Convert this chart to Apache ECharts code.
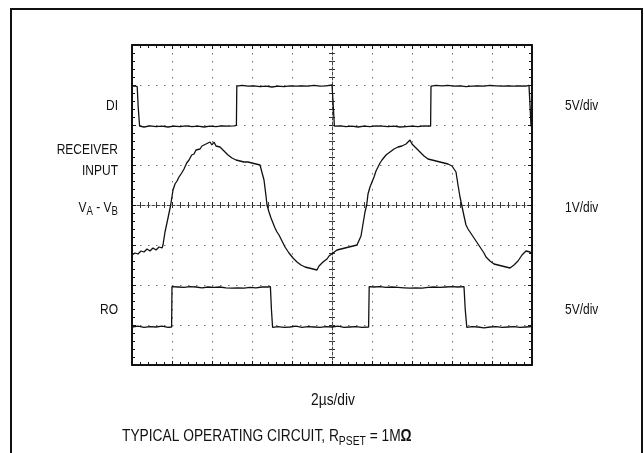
<!DOCTYPE html>
<html>
<head>
<meta charset="utf-8">
<script src="https://cdn.jsdelivr.net/npm/echarts@6/dist/echarts.min.js"></script>
<style>html,body{margin:0;padding:0;background:#fff;}#c{width:644px;height:453px;}</style>
</head>
<body>
<div id="c"></div>
<script>
// time in µs (2 µs/div), amplitude in screen divisions (0 = centre line)
const diTrace = [[0,2.97],[0.12,2.98],[0.26,2.96],[0.31,2.45],[0.38,1.97],[0.6,1.95],[0.9,1.98],[1.2,1.96],[1.5,1.97],[1.8,1.95],[2.1,1.97],[2.4,1.96],[2.7,1.98],[3.0,1.96],[3.3,1.97],[3.6,1.95],[3.9,1.97],[4.2,1.96],[4.5,1.98],[4.8,1.97],[5.1,1.98],[5.22,1.99],[5.24,2.97],[5.5,2.99],[5.8,2.97],[6.1,2.98],[6.4,2.96],[6.7,2.97],[7.0,2.95],[7.3,2.97],[7.6,2.96],[7.9,2.98],[8.2,2.97],[8.5,2.98],[8.8,2.97],[9.1,2.99],[9.4,2.97],[9.7,2.98],[10.0,3.0],[10.05,2.6],[10.12,1.97],[10.4,1.98],[10.7,1.96],[11.0,1.97],[11.3,1.95],[11.6,1.97],[11.9,1.96],[12.2,1.98],[12.5,1.97],[12.8,1.96],[13.1,1.97],[13.4,1.95],[13.7,1.96],[14.0,1.97],[14.3,1.96],[14.6,1.98],[14.93,1.97],[14.95,2.97],[15.2,2.99],[15.5,2.98],[15.8,2.99],[16.1,2.97],[16.4,2.98],[16.7,2.96],[17.0,2.97],[17.3,2.98],[17.6,2.97],[17.9,2.99],[18.2,2.98],[18.5,2.97],[18.8,2.98],[19.1,2.97],[19.4,2.98],[19.7,2.97],[19.85,2.99],[19.9,2.5],[19.95,1.97],[20,1.97]];

const receiverTrace = [[0,-1.25],[0.15,-1.2],[0.3,-1.225],[0.45,-1.15],[0.6,-1.175],[0.75,-1.1],[0.9,-1.15],[1.05,-1.075],[1.2,-1.125],[1.35,-1.05],[1.5,-1.075],[1.55,-1.0],[1.65,-0.675],[1.8,-0.325],[1.935,0],[2.05,0.375],[2.15,0.525],[2.25,0.6],[2.35,0.7],[2.485,0.8],[2.6,0.9],[2.735,1.05],[2.85,1.125],[2.985,1.25],[3.1,1.275],[3.2,1.375],[3.3,1.425],[3.4,1.4],[3.5,1.475],[3.6,1.45],[3.7,1.525],[3.8,1.5],[3.9,1.575],[4.0,1.5],[4.1,1.575],[4.2,1.475],[4.3,1.525],[4.4,1.45],[4.5,1.425],[4.6,1.35],[4.7,1.325],[4.8,1.25],[4.9,1.225],[5.0,1.175],[5.1,1.2],[5.2,1.125],[5.3,1.175],[5.4,1.1],[5.5,1.125],[5.6,1.075],[5.7,1.125],[5.8,1.075],[5.9,1.1],[6.0,1.05],[6.1,1.075],[6.2,1.025],[6.3,1.075],[6.4,1.0],[6.5,0.975],[6.6,0.625],[6.7,0.225],[6.75,0],[6.85,-0.175],[6.95,-0.325],[7.05,-0.45],[7.15,-0.575],[7.25,-0.675],[7.35,-0.75],[7.45,-0.85],[7.55,-0.95],[7.65,-1.05],[7.75,-1.125],[7.85,-1.2],[7.95,-1.25],[8.05,-1.325],[8.15,-1.35],[8.25,-1.425],[8.35,-1.45],[8.45,-1.5],[8.55,-1.475],[8.65,-1.55],[8.75,-1.5],[8.85,-1.575],[8.95,-1.55],[9.05,-1.6],[9.15,-1.575],[9.25,-1.625],[9.35,-1.525],[9.45,-1.475],[9.55,-1.425],[9.65,-1.375],[9.75,-1.35],[9.85,-1.275],[9.95,-1.25],[10.05,-1.2],[10.15,-1.175],[10.25,-1.125],[10.35,-1.15],[10.45,-1.1],[10.55,-1.125],[10.65,-1.075],[10.75,-1.1],[10.85,-1.05],[10.95,-1.075],[11.05,-1.025],[11.15,-1.05],[11.25,-1.0],[11.35,-0.95],[11.45,-0.775],[11.55,-0.475],[11.65,-0.175],[11.735,0],[11.8,0.275],[11.9,0.45],[12.0,0.575],[12.1,0.7],[12.2,0.85],[12.3,0.95],[12.4,1.05],[12.5,1.125],[12.6,1.175],[12.7,1.25],[12.8,1.275],[12.9,1.325],[13.0,1.35],[13.1,1.4],[13.2,1.4],[13.3,1.45],[13.4,1.425],[13.5,1.475],[13.6,1.475],[13.7,1.525],[13.8,1.55],[13.9,1.625],[14.0,1.525],[14.1,1.475],[14.2,1.425],[14.3,1.4],[14.4,1.325],[14.5,1.3],[14.6,1.225],[14.7,1.2],[14.8,1.15],[14.9,1.175],[15.0,1.125],[15.1,1.125],[15.2,1.1],[15.3,1.1],[15.4,1.075],[15.5,1.075],[15.6,1.05],[15.7,1.05],[15.8,1.025],[15.9,1.0],[16.0,0.975],[16.1,0.925],[16.2,0.825],[16.3,0.5],[16.4,0.2],[16.485,0],[16.6,-0.275],[16.7,-0.5],[16.8,-0.6],[16.9,-0.675],[17.0,-0.75],[17.1,-0.825],[17.2,-0.9],[17.3,-0.975],[17.4,-1.05],[17.5,-1.1],[17.6,-1.2],[17.7,-1.3],[17.8,-1.35],[17.9,-1.4],[18.0,-1.425],[18.1,-1.475],[18.2,-1.45],[18.3,-1.5],[18.4,-1.475],[18.5,-1.525],[18.6,-1.5],[18.7,-1.55],[18.8,-1.525],[18.9,-1.575],[19.0,-1.55],[19.1,-1.5],[19.2,-1.45],[19.3,-1.4],[19.4,-1.325],[19.5,-1.25],[19.6,-1.2],[19.7,-1.15],[19.8,-1.2],[19.9,-1.175],[20.0,-1.225]];

const roTrace = [[0,-3.05],[0.3,-3.03],[0.6,-3.06],[0.9,-3.04],[1.2,-3.05],[1.5,-3.03],[1.8,-3.06],[1.98,-3.05],[2.0,-2.04],[2.3,-2.05],[2.6,-2.06],[2.9,-2.04],[3.2,-2.05],[3.5,-2.07],[3.8,-2.05],[4.1,-2.06],[4.4,-2.05],[4.7,-2.07],[5.0,-2.08],[5.3,-2.07],[5.6,-2.08],[5.9,-2.06],[6.2,-2.07],[6.5,-2.05],[6.8,-2.05],[6.92,-2.04],[6.97,-2.6],[7.03,-3.06],[7.3,-3.04],[7.6,-3.06],[7.9,-3.05],[8.2,-3.03],[8.5,-3.06],[8.8,-3.04],[9.1,-3.05],[9.4,-3.06],[9.7,-3.04],[10.0,-3.05],[10.3,-3.03],[10.6,-3.06],[10.9,-3.05],[11.2,-3.04],[11.5,-3.06],[11.83,-3.05],[11.86,-2.04],[12.1,-2.05],[12.4,-2.04],[12.7,-2.06],[13.0,-2.05],[13.3,-2.06],[13.6,-2.07],[13.9,-2.08],[14.2,-2.07],[14.5,-2.08],[14.8,-2.06],[15.1,-2.05],[15.4,-2.06],[15.7,-2.05],[16.0,-2.04],[16.3,-2.05],[16.6,-2.04],[16.66,-2.6],[16.74,-3.06],[17.0,-3.04],[17.3,-3.05],[17.6,-3.07],[17.9,-3.05],[18.2,-3.04],[18.5,-3.06],[18.8,-3.05],[19.1,-3.04],[19.4,-3.06],[19.7,-3.05],[20,-3.04]];

const timeRange = [0, 20];      // µs, 2 µs/div
const ampRange = [-4, 4];       // divisions
const leftLabels = ['DI', 'RECEIVER', 'INPUT', 'RO'];
const rightLabels = ['5V/div', '1V/div', '5V/div'];
const timebaseLabel = '2\u00b5s/div';

const FONT = '"Liberation Sans", Arial, sans-serif';
const INK = '#111';
const chart = echarts.init(document.getElementById('c'), null, {renderer: 'canvas'});

const dotted = {color: '#707070', width: 1, type: [1.5, 6.5]};
const frameAxisLine = {show: true, onZero: false, lineStyle: {color: '#111', width: 2}};
function frameX(pos, split) {
  return {type: 'value', gridIndex: 0, position: pos, min: timeRange[0], max: timeRange[1], interval: 2,
    axisLine: frameAxisLine, axisLabel: {show: false},
    axisTick: {show: true, inside: true, length: 4, lineStyle: {color: '#111'}},
    minorTick: {show: true, splitNumber: 5, length: 3, lineStyle: {color: '#111'}},
    splitLine: {show: split, lineStyle: dotted}};
}
function frameY(pos, split) {
  return {type: 'value', gridIndex: 0, position: pos, min: ampRange[0], max: ampRange[1], interval: 1,
    axisLine: frameAxisLine, axisLabel: {show: false},
    axisTick: {show: true, inside: true, length: 4, lineStyle: {color: '#111'}},
    minorTick: {show: true, splitNumber: 5, length: 3, lineStyle: {color: '#111'}},
    splitLine: {show: split, lineStyle: dotted}};
}
const hidden = {axisLine: {show: false}, axisTick: {show: false}, axisLabel: {show: false}, splitLine: {show: false}};
const traceStyle = {color: '#111', width: 1.3};
function trace(data) {
  return {type: 'line', xAxisIndex: 0, yAxisIndex: 0, data: data, showSymbol: false, symbol: 'none',
    lineStyle: traceStyle, itemStyle: {color: '#111'}, z: 10, silent: true};
}
const LBL_SIZE = 15, LBL_SX = 0.8;
const txt = (text, x, y, align, size, sx) => ({
  type: 'text', x: x, y: y, scaleX: sx || LBL_SX, silent: true,
  style: {text: text, font: (size || LBL_SIZE) + 'px ' + FONT, fill: INK, textAlign: align, textVerticalAlign: 'middle'}
});

chart.setOption({
  animation: false,
  backgroundColor: '#fff',
  grid: [
    {left: 132, top: 45, width: 400, height: 320},
    {left: 132, top: 202, width: 400, height: 6},
    {left: 329, top: 45, width: 6, height: 320}
  ],
  xAxis: [
    frameX('bottom', true),
    frameX('top', false),
    Object.assign({type: 'value', gridIndex: 1, min: timeRange[0], max: timeRange[1], interval: 2}, hidden, {
      axisLine: {show: true, onZero: true, lineStyle: {color: '#444', width: 1, type: [3, 2]}},
      minorTick: {show: false, splitNumber: 5},
      splitLine: {show: true, lineStyle: {color: '#222', width: 1}},
      minorSplitLine: {show: true, lineStyle: {color: '#333', width: 1}}
    }),
    Object.assign({type: 'value', gridIndex: 2, min: -1, max: 1}, hidden)
  ],
  yAxis: [
    frameY('left', true),
    frameY('right', false),
    Object.assign({type: 'value', gridIndex: 1, min: -1, max: 1}, hidden),
    Object.assign({type: 'value', gridIndex: 2, min: ampRange[0], max: ampRange[1], interval: 1}, hidden, {
      axisLine: {show: true, onZero: true, lineStyle: {color: '#444', width: 1, type: [3, 2]}},
      minorTick: {show: false, splitNumber: 5},
      splitLine: {show: true, lineStyle: {color: '#222', width: 1}},
      minorSplitLine: {show: true, lineStyle: {color: '#333', width: 1}}
    })
  ],
  series: [trace(diTrace), trace(receiverTrace), trace(roTrace)],
  graphic: [
    {type: 'rect', silent: true, shape: {x: 11, y: 9, width: 631, height: 470},
      style: {fill: 'none', stroke: '#111', lineWidth: 2}},
    txt(leftLabels[0], 118, 106, 'right'),
    txt(leftLabels[1], 118, 150, 'right'),
    txt(leftLabels[2], 118, 171, 'right'),
    {type: 'text', x: 118, y: 208, scaleX: LBL_SX, silent: true,
      style: {text: '{a|V}{s|A}{a| - V}{s|B}', textAlign: 'right', textVerticalAlign: 'middle', fill: INK,
        rich: {a: {font: LBL_SIZE + 'px ' + FONT, fill: INK, lineHeight: 20, verticalAlign: 'middle'},
               s: {font: '12px ' + FONT, fill: INK, lineHeight: 13, verticalAlign: 'bottom'}}}},
    txt(leftLabels[3], 118, 310, 'right'),
    txt(rightLabels[0], 565, 106, 'left'),
    txt(rightLabels[1], 565, 208, 'left'),
    txt(rightLabels[2], 565, 310, 'left'),
    txt(timebaseLabel, 333, 401, 'center', 16, 0.86),
    {type: 'text', x: 122, y: 437, scaleX: 0.86, silent: true,
      style: {text: '{a|TYPICAL OPERATING CIRCUIT, R}{s|PSET}{a| = 1M}{o|\u03a9}', textAlign: 'left', textVerticalAlign: 'middle', fill: INK,
        rich: {a: {font: '16px ' + FONT, fill: INK, lineHeight: 22, verticalAlign: 'middle'},
               s: {font: '12px ' + FONT, fill: INK, lineHeight: 14, verticalAlign: 'bottom'},
               o: {font: 'bold 16px ' + FONT, fill: INK, lineHeight: 22, verticalAlign: 'middle'}}}}
  ]
});
</script>
</body>
</html>
